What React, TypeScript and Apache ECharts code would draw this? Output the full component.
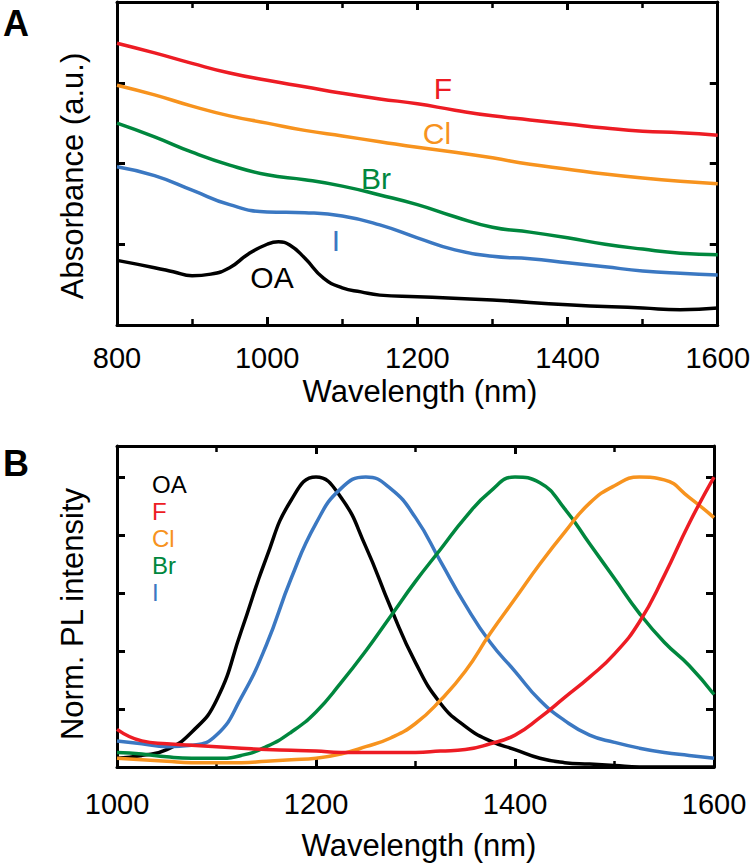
import React, { useEffect, useRef } from "react";
import * as echarts from "echarts";

// ---------- Panel A : absorbance ----------
const absWl = [800, 850, 900, 950, 1000, 1050, 1100, 1150, 1200, 1250, 1300, 1350, 1400, 1450, 1500, 1550, 1600];
const absF = [3.49, 3.37, 3.24, 3.12, 3.03, 2.95, 2.87, 2.8, 2.74, 2.66, 2.59, 2.54, 2.49, 2.44, 2.4, 2.38, 2.35];
const absCl = [2.97, 2.85, 2.71, 2.59, 2.5, 2.41, 2.34, 2.27, 2.2, 2.14, 2.07, 1.99, 1.93, 1.87, 1.82, 1.78, 1.75];
const absBr = [2.5, 2.33, 2.14, 1.98, 1.86, 1.8, 1.72, 1.61, 1.49, 1.34, 1.21, 1.15, 1.08, 1.0, 0.94, 0.89, 0.87];
const absI = [1.96, 1.85, 1.67, 1.49, 1.4, 1.39, 1.35, 1.24, 1.08, 0.93, 0.85, 0.82, 0.77, 0.72, 0.67, 0.64, 0.62];
const absOaWl = [800, 850, 875, 900, 925, 950, 975, 1000, 1015, 1030, 1050, 1075, 1100, 1125, 1150, 1200, 1300, 1400, 1500, 1550, 1600];
const absOa = [0.8, 0.71, 0.66, 0.61, 0.63, 0.71, 0.88, 1.0, 1.03, 0.99, 0.83, 0.58, 0.46, 0.41, 0.37, 0.35, 0.31, 0.25, 0.21, 0.19, 0.21];

// ---------- Panel B : normalised PL ----------
const plWl = [1000, 1025, 1050, 1075, 1100, 1125, 1150, 1175, 1200, 1225, 1250, 1275, 1300, 1325, 1350, 1375, 1400, 1425, 1450, 1475, 1500, 1525, 1550, 1575, 1600];
const plOa = [0.03, 0.04, 0.06, 0.12, 0.23, 0.47, 0.72, 0.92, 1.0, 0.93, 0.76, 0.55, 0.36, 0.22, 0.14, 0.09, 0.06, 0.03, 0.015, 0.01, 0.005, 0.0, 0.0, 0.0, 0.0];
const plF = [0.13, 0.09, 0.08, 0.075, 0.07, 0.065, 0.06, 0.058, 0.055, 0.05, 0.05, 0.05, 0.05, 0.055, 0.06, 0.08, 0.11, 0.17, 0.24, 0.31, 0.39, 0.5, 0.66, 0.84, 1.0];
const plCl = [0.03, 0.025, 0.02, 0.015, 0.015, 0.015, 0.02, 0.025, 0.03, 0.045, 0.07, 0.1, 0.15, 0.23, 0.33, 0.46, 0.58, 0.7, 0.81, 0.91, 0.97, 1.0, 0.99, 0.93, 0.86];
const plBr = [0.05, 0.045, 0.035, 0.03, 0.03, 0.04, 0.07, 0.12, 0.19, 0.29, 0.4, 0.52, 0.64, 0.75, 0.86, 0.95, 1.0, 0.98, 0.89, 0.77, 0.65, 0.53, 0.43, 0.35, 0.25];
const plI = [0.09, 0.08, 0.07, 0.075, 0.11, 0.24, 0.42, 0.65, 0.84, 0.96, 1.0, 0.96, 0.86, 0.71, 0.56, 0.43, 0.33, 0.23, 0.16, 0.11, 0.085, 0.065, 0.05, 0.04, 0.03];

const seriesNames = ["OA", "F", "Cl", "Br", "I"];
const colors: Record<string, string> = {
  OA: "#000000",
  F: "#ed1c24",
  Cl: "#f7931e",
  Br: "#00873e",
  I: "#3b78c2",
};

const FONT = "'Liberation Sans', Arial, Helvetica, sans-serif";

function pairs(xs: number[], ys: number[]) {
  return xs.map((x, i) => [x, ys[i]]);
}

export default function App() {
  const ref = useRef<HTMLDivElement>(null);

  useEffect(() => {
    if (!ref.current) return;
    const chart = echarts.init(ref.current, null, { renderer: "svg" });

    const axisLine = { show: true, onZero: false, lineStyle: { color: "#000", width: 3 } };
    const tick = { show: true, inside: true, length: 8, lineStyle: { color: "#000", width: 3 } };
    const minor = { show: true, splitNumber: 2, length: 6, lineStyle: { color: "#000", width: 2.5 } };
    const noSplit = { show: false };

    const xAxisCommon = (gridIndex: number, min: number, max: number, position: string, showLabel: boolean, margin: number) => ({
      type: "value",
      gridIndex,
      min,
      max,
      interval: 200,
      position,
      axisLine,
      axisTick: tick,
      minorTick: minor,
      splitLine: noSplit,
      minorSplitLine: noSplit,
      axisLabel: {
        show: showLabel,
        fontSize: 29,
        color: "#000",
        margin,
        fontFamily: FONT,
        formatter: (v: number) => String(v),
      },
    });

    const yAxisCommon = (gridIndex: number, max: number, interval: number, position: string) => ({
      type: "value",
      gridIndex,
      min: 0,
      max,
      interval,
      position,
      axisLine,
      axisTick: tick,
      splitLine: noSplit,
      axisLabel: { show: false },
    });

    const lineSeries = (name: string, data: number[][], xi: number, yi: number) => ({
      type: "line",
      name,
      data,
      xAxisIndex: xi,
      yAxisIndex: yi,
      showSymbol: false,
      symbol: "none",
      smooth: 0.5,
      lineStyle: { color: colors[name], width: 3.5 },
      itemStyle: { color: colors[name] },
      z: 2,
    });

    const absData: Record<string, number[][]> = {
      OA: pairs(absOaWl, absOa),
      F: pairs(absWl, absF),
      Cl: pairs(absWl, absCl),
      Br: pairs(absWl, absBr),
      I: pairs(absWl, absI),
    };
    const plData: Record<string, number[][]> = {
      OA: pairs(plWl, plOa),
      F: pairs(plWl, plF),
      Cl: pairs(plWl, plCl),
      Br: pairs(plWl, plBr),
      I: pairs(plWl, plI),
    };

    const txt = (text: string, x: number, y: number, color: string, size: number, extra: any = {}) => ({
      type: "text",
      x,
      y,
      z: 10,
      rotation: extra.rotation || 0,
      style: {
        text,
        fill: color,
        fontSize: size,
        fontFamily: FONT,
        align: extra.align || "center",
        verticalAlign: "middle",
        fontWeight: extra.fontWeight || "normal",
        lineHeight: extra.lineHeight,
      },
    });

    // annotation positions in panel A
    const absLabelPos: Record<string, [number, number]> = {
      F: [443, 88],
      Cl: [437, 133],
      Br: [376, 178],
      I: [336, 240],
      OA: [272, 277],
    };
    const legendY = [484, 511, 538, 565, 592];

    const graphic: any[] = [
      txt("A", 16, 23, "#000", 36, { fontWeight: "bold" }),
      txt("B", 16, 463, "#000", 36, { fontWeight: "bold" }),
      txt("Wavelength (nm)", 420, 391, "#000", 31),
      txt("Wavelength (nm)", 419, 845, "#000", 31),
      txt("Absorbance (a.u.)", 72, 176, "#000", 31, { rotation: Math.PI / 2 }),
      txt("Norm. PL intensity", 72, 614, "#000", 31, { rotation: Math.PI / 2 }),
    ];
    seriesNames.forEach((n, i) => {
      const p = absLabelPos[n];
      graphic.push(txt(n, p[0], p[1], colors[n], 30));
      graphic.push(txt(n, 152, legendY[i], colors[n], 24, { align: "left", lineHeight: 26 }));
    });

    const option: any = {
      animation: false,
      backgroundColor: "#ffffff",
      textStyle: { fontFamily: FONT },
      grid: [
        { left: 117, top: 2, width: 605, height: 323, containLabel: false },
        { left: 117, top: 446, width: 597, height: 321, containLabel: false },
      ],
      xAxis: [
        xAxisCommon(0, 800, 1600, "bottom", true, 18),
        xAxisCommon(0, 800, 1600, "top", false, 8),
        xAxisCommon(1, 1000, 1600, "bottom", true, 22),
        xAxisCommon(1, 1000, 1600, "top", false, 8),
      ],
      yAxis: [
        yAxisCommon(0, 4, 1, "left"),
        yAxisCommon(0, 4, 1, "right"),
        yAxisCommon(1, 1.107, 0.2, "left"),
        yAxisCommon(1, 1.107, 0.2, "right"),
      ],
      series: [
        ...seriesNames.map((n) => lineSeries(n, absData[n], 0, 0)),
        ...["OA", "I", "Br", "Cl", "F"].map((n) => lineSeries(n, plData[n], 2, 2)),
      ],
      graphic,
    };
    chart.setOption(option);
    return () => chart.dispose();
  }, []);

  return (
    <div
      ref={ref}
      style={{ position: "absolute", left: 0, top: 0, width: 753, height: 865, background: "#fff" }}
    />
  );
}
